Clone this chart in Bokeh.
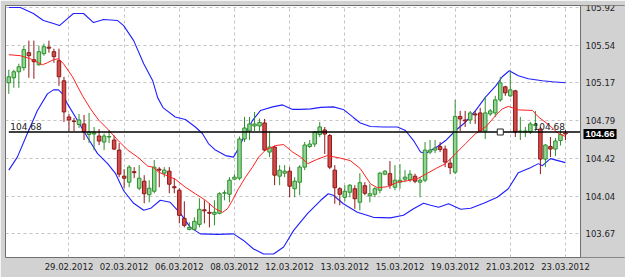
from bokeh.plotting import figure
from bokeh.models import ColumnDataSource, FixedTicker, Range1d, Label, BoxAnnotation, Span
from bokeh.embed import file_html
from bokeh.resources import INLINE

# ---------------- data ----------------
opens = [105.17, 105.22, 105.28, 105.32, 105.47, 105.40, 105.35, 105.46, 105.525, 105.48,
         105.39, 105.19, 104.83, 104.79, 104.755, 104.76, 104.655, 104.66, 104.64, 104.58,
         104.63, 104.60, 104.50, 104.24, 104.18, 104.285, 104.12, 104.19, 104.055, 104.09,
         104.31, 104.27, 104.29, 104.135, 104.10, 103.82, 103.71, 103.71, 103.76, 103.905,
         103.88, 103.86, 103.87, 104.07, 104.06, 104.21, 104.22, 104.61, 104.69, 104.74,
         104.74, 104.77, 104.48, 104.53, 104.24, 104.27, 104.29, 104.115, 104.18, 104.33,
         104.535, 104.56, 104.655, 104.70, 104.645, 104.30, 104.115, 104.03, 104.08, 104.115,
         103.98, 104.145, 104.045, 104.06, 104.10, 104.26, 104.265, 104.13, 104.18, 104.21,
         104.205, 104.24, 104.18, 104.20, 104.48, 104.50, 104.535, 104.51, 104.37, 104.28,
         104.835, 104.80, 104.80, 104.86, 104.87, 104.69, 104.86, 104.87, 105.00, 105.13,
         105.04, 105.09, 104.685, 104.68, 104.68, 104.745, 104.71, 104.41, 104.535, 104.51,
         104.595, 104.67]
highs = [105.30, 105.30, 105.36, 105.54, 105.59, 105.59, 105.54, 105.56, 105.59, 105.51,
         105.51, 105.23, 104.86, 104.82, 104.86, 104.85, 104.87, 104.73, 104.71, 104.665,
         104.70, 104.645, 104.57, 104.31, 104.35, 104.33, 104.35, 104.25, 104.20, 104.40,
         104.33, 104.33, 104.33, 104.22, 104.12, 103.99, 103.78, 103.83, 104.02, 104.00,
         103.97, 104.00, 104.08, 104.10, 104.23, 104.26, 104.635, 104.83, 104.83, 104.88,
         104.815, 104.81, 104.69, 104.545, 104.35, 104.35, 104.33, 104.23, 104.35, 104.58,
         104.60, 104.69, 104.78, 104.73, 104.66, 104.35, 104.13, 104.15, 104.16, 104.15,
         104.27, 104.18, 104.16, 104.13, 104.28, 104.30, 104.39, 104.35, 104.36, 104.30,
         104.30, 104.265, 104.23, 104.58, 104.60, 104.60, 104.58, 104.545, 104.41, 105.00,
         104.89, 104.89, 104.89, 104.89, 104.92, 105.03, 104.91, 105.04, 105.23, 105.14,
         105.28, 105.10, 104.83, 104.73, 104.78, 104.89, 104.73, 104.56, 104.63, 104.62,
         104.70, 104.70]
lows = [105.06, 105.12, 105.12, 105.29, 105.22, 105.21, 105.34, 105.44, 105.47, 105.37,
        105.14, 104.78, 104.69, 104.69, 104.72, 104.60, 104.57, 104.50, 104.55, 104.50,
        104.57, 104.50, 104.23, 104.12, 104.13, 104.22, 104.10, 103.97, 103.98, 104.07,
        104.13, 104.23, 104.07, 104.07, 103.77, 103.73, 103.70, 103.70, 103.73, 103.77,
        103.73, 103.75, 103.86, 104.00, 103.98, 104.20, 104.20, 104.58, 104.60, 104.69,
        104.69, 104.49, 104.43, 104.15, 104.15, 104.23, 104.03, 104.03, 104.05, 104.30,
        104.52, 104.53, 104.63, 104.46, 104.31, 103.965, 103.95, 103.99, 104.03, 103.915,
        103.90, 104.05, 103.98, 104.03, 104.07, 104.25, 104.115, 104.10, 104.115, 104.18,
        104.18, 104.17, 104.03, 104.18, 104.46, 104.47, 104.48, 104.33, 104.26, 104.26,
        104.69, 104.73, 104.76, 104.76, 104.68, 104.61, 104.84, 104.83, 104.98, 105.04,
        105.03, 104.63, 104.60, 104.63, 104.66, 104.69, 104.26, 104.33, 104.43, 104.44,
        104.545, 104.60]
closes = [105.23, 105.28, 105.33, 105.50, 105.44, 105.38, 105.48, 105.53, 105.515, 105.43,
          105.23, 104.88, 104.80, 104.785, 104.80, 104.68, 104.68, 104.67, 104.59, 104.64,
          104.635, 104.51, 104.26, 104.22, 104.33, 104.275, 104.22, 104.065, 104.12, 104.33,
          104.30, 104.30, 104.16, 104.125, 103.85, 103.75, 103.73, 103.79, 103.91, 103.895,
          103.87, 103.88, 104.065, 104.075, 104.20, 104.23, 104.61, 104.72, 104.76, 104.76,
          104.775, 104.50, 104.53, 104.25, 104.30, 104.29, 104.14, 104.19, 104.33, 104.55,
          104.56, 104.68, 104.73, 104.66, 104.33, 104.125, 104.06, 104.09, 104.15, 104.015,
          104.175, 104.07, 104.065, 104.115, 104.27, 104.29, 104.15, 104.20, 104.20, 104.23,
          104.26, 104.19, 104.20, 104.50, 104.50, 104.52, 104.505, 104.38, 104.325, 104.835,
          104.81, 104.79, 104.87, 104.85, 104.69, 104.87, 104.89, 105.00, 105.17, 105.07,
          105.10, 104.68, 104.69, 104.69, 104.76, 104.755, 104.41, 104.55, 104.51, 104.59,
          104.655, 104.66]

# moving average (red): bar position / price
ma_x = [0, 2.3, 4.3, 5.7, 6.7, 7.7, 8.9, 9.9, 10.9, 12.7, 14.7, 16.3, 17.9, 19.7, 21.7,
        23.7, 25.7, 27.7, 28.7, 29.9, 31.3, 33.2, 35.2, 37.2, 39.2, 41.2, 42.6, 43.6, 44.6,
        45.8, 47.2, 48.6, 49.8, 51.2, 53.2, 54.8, 56.6, 58.2, 59.6, 61.6, 63.5, 66.1, 68.1,
        70.1, 72.1, 73.5, 75.5, 77.5, 79.5, 81.5, 83.5, 85.3, 87.1, 89.1, 91.1, 93.1, 95.1,
        97.1, 98.4, 99.6, 101.6, 104.4, 105.6, 107.6, 109.6, 111]
ma_y = [105.45, 105.44, 105.41, 105.375, 105.35, 105.37, 105.40, 105.41, 105.36, 105.23,
        105.04, 104.91, 104.80, 104.71, 104.60, 104.50, 104.43, 104.34, 104.33, 104.28,
        104.25, 104.21, 104.13, 104.065, 104.00, 103.915, 103.88, 103.915, 104.00, 104.115,
        104.23, 104.33, 104.43, 104.50, 104.545, 104.555, 104.48, 104.43, 104.365, 104.41,
        104.445, 104.42, 104.395, 104.315, 104.165, 104.125, 104.135, 104.18, 104.195,
        104.215, 104.27, 104.32, 104.365, 104.465, 104.565, 104.665, 104.73, 104.845,
        104.91, 104.935, 104.90, 104.895, 104.83, 104.755, 104.665, 104.635]

# upper Bollinger band (blue)
up_x = [0, 2.3, 4.9, 6.9, 8.9, 10.1, 11.7, 12.9, 14.9, 16.9, 18.9, 21.7, 22.9, 24.9, 26.9,
        28.7, 29.7, 30.8, 33.2, 35.2, 37.2, 38.6, 39.8, 41.2, 43.2, 44.8, 45.8, 47.2, 48.6,
        50.2, 52.6, 54.6, 56.6, 58.2, 60.2, 62.2, 64.7, 66.7, 68.7, 70.1, 72.1, 74.7, 77.5,
        79.1, 80.7, 82.1, 83.1, 84.1, 85.5, 87.1, 89.1, 91.1, 93.1, 95.1, 97.1, 98.4, 99.8,
        101.6, 103.6, 106.4, 108.4, 111]
up_y = [105.92, 105.92, 105.86, 105.79, 105.76, 105.74, 105.81, 105.86, 105.86, 105.77,
        105.80, 105.79, 105.74, 105.59, 105.36, 105.19, 105.02, 104.92, 104.83, 104.805,
        104.73, 104.665, 104.565, 104.50, 104.445, 104.43, 104.515, 104.665, 104.795,
        104.895, 104.93, 104.95, 104.905, 104.905, 104.91, 104.925, 104.93, 104.905,
        104.825, 104.77, 104.735, 104.73, 104.73, 104.695, 104.595, 104.48, 104.465,
        104.495, 104.535, 104.595, 104.695, 104.78, 104.895, 105.03, 105.14, 105.23,
        105.29, 105.24, 105.21, 105.19, 105.18, 105.17]

# lower Bollinger band (blue)
lo_x = [0, 1.7, 3.7, 5.7, 7.7, 8.9, 9.9, 10.7, 11.7, 13.7, 15.7, 17.7, 19.7, 21.3, 22.9,
        24.9, 26.9, 28.3, 30.2, 32.2, 34.2, 36.2, 38.2, 41.6, 44.8, 46.8, 48.8, 50.8, 52.8,
        54.8, 56.8, 59.6, 62.2, 63.7, 64.7, 66.7, 69.5, 72.7, 76.1, 78.7, 80.7, 82.7, 84.1,
        85.7, 87.7, 90.1, 92.1, 94.7, 97.4, 99.6, 101.6, 104.0, 105.6, 106.4, 108.0, 111]
lo_y = [104.30, 104.43, 104.665, 104.895, 105.06, 105.10, 105.10, 105.06, 104.96, 104.795,
        104.625, 104.465, 104.365, 104.265, 104.095, 103.97, 103.90, 103.92, 104.00, 103.98,
        103.87, 103.73, 103.665, 103.66, 103.665, 103.60, 103.515, 103.465, 103.465, 103.535,
        103.70, 103.87, 104.00, 104.065, 104.05, 103.965, 103.88, 103.83, 103.825, 103.85,
        103.915, 103.97, 103.95, 103.93, 103.965, 103.91, 103.92, 103.97, 104.03, 104.115,
        104.275, 104.325, 104.365, 104.345, 104.415, 104.375]

tick_bars = [12, 23, 34, 45, 56, 67, 78, 89, 100, 111]
tick_labels = ["29.02.2012", "02.03.2012", "06.03.2012", "08.03.2012", "12.03.2012",
               "13.03.2012", "15.03.2012", "19.03.2012", "21.03.2012", "23.03.2012"]
price_ticks = [103.67, 104.04, 104.42, 104.79, 105.17, 105.54, 105.92]

level_price = 104.68
last_price = 104.66
marker_bar = [98]
marker_price = [104.68]

# chart-area extent in bar units (plot area ends where the price scale begins)
X_START = -0.66
X_EDGE = 114.0
X_END = 122.97

# ---------------- figure ----------------
FONT = "DejaVu Sans"
GRAY = "#d2d2d2"

p = figure(width=625, height=277, output_backend="svg", toolbar_location=None,
           x_range=Range1d(X_START, X_END), y_range=Range1d(103.43, 105.94),
           y_axis_location="right",
           min_border_left=5, min_border_right=0, min_border_top=5, min_border_bottom=20)

p.background_fill_color = "white"
p.border_fill_color = GRAY
p.outline_line_color = "#6e6e6e"
p.outline_line_width = 1

p.xaxis.ticker = FixedTicker(ticks=tick_bars, minor_ticks=[])
p.xaxis.major_label_overrides = {b: t for b, t in zip(tick_bars, tick_labels)}
p.yaxis.ticker = FixedTicker(ticks=price_ticks, minor_ticks=[])
p.yaxis.major_label_overrides = {v: f"{v:.2f}" for v in price_ticks}
p.yaxis.fixed_location = X_EDGE

for ax in (p.xaxis[0], p.yaxis[0]):
    ax.axis_line_color = None
    ax.major_tick_line_color = None
    ax.minor_tick_line_color = None
    ax.major_tick_out = 0
    ax.major_tick_in = 0
    ax.major_label_text_font = FONT
    ax.major_label_text_font_size = "8.5px"
    ax.major_label_text_color = "#222222"
p.xaxis.major_label_standoff = 5
p.yaxis.major_label_standoff = 5

p.xgrid.grid_line_color = "#c4c4c4"
p.xgrid.grid_line_dash = "3 3"
p.ygrid.grid_line_color = "#c4c4c4"
p.ygrid.grid_line_dash = "3 3"

# gray price-scale strip on the right (covers grid lines, below the axis labels)
p.add_layout(BoxAnnotation(left=X_EDGE, fill_color=GRAY, fill_alpha=1.0,
                           line_color=None, level="glyph"))
p.add_layout(Span(location=X_EDGE, dimension="height", line_color="#6e6e6e",
                  line_width=1, level="glyph"))

# overlays: bands
p.line(up_x, up_y, line_color="#1f1fff", line_width=1.1)
p.line(lo_x, lo_y, line_color="#1f1fff", line_width=1.1)

# candles
idx = list(range(len(opens)))
up_idx = [i for i in idx if closes[i] >= opens[i]]
dn_idx = [i for i in idx if closes[i] < opens[i]]

def src(ids):
    return ColumnDataSource(dict(
        x=ids,
        high=[highs[i] for i in ids],
        low=[lows[i] for i in ids],
        top=[max(opens[i], closes[i]) for i in ids],
        bottom=[min(opens[i], closes[i]) for i in ids],
    ))

s_up = src(up_idx)
s_dn = src(dn_idx)

p.segment(x0="x", y0="high", x1="x", y1="low", source=s_up, line_color="#2f8f2f", line_width=1)
p.segment(x0="x", y0="high", x1="x", y1="low", source=s_dn, line_color="#8e1818", line_width=1)
p.vbar(x="x", width=0.7, top="top", bottom="bottom", source=s_up,
       fill_color="#92d492", line_color="#2f8f2f", line_width=1)
p.vbar(x="x", width=0.7, top="top", bottom="bottom", source=s_dn,
       fill_color="#d24b4b", line_color="#8e1818", line_width=1)

# moving average
p.line(ma_x, ma_y, line_color="#ff2020", line_width=1)

# horizontal level line
p.line([0, X_EDGE], [level_price, level_price], line_color="black", line_width=1.4)

p.scatter(marker_bar, marker_price, marker="square", size=6,
          fill_color="white", line_color="#222222", line_width=1)

p.add_layout(Label(x=0.3, y=level_price, y_offset=2, text=f"{level_price:.2f}",
                   text_font=FONT, text_font_size="9px", text_color="#222222",
                   text_baseline="bottom"))
p.add_layout(Label(x=110.9, y=level_price, y_offset=2, text=f"{level_price:.2f}",
                   text_font=FONT, text_font_size="9px", text_color="#222222",
                   text_baseline="bottom", text_align="right"))
# last-price tag on the price scale
p.add_layout(Label(x=X_EDGE, x_offset=3, y=last_price, text=f"{last_price:.2f}",
                   text_font="Liberation Sans", text_font_size="9.5px", text_color="white",
                   text_font_style="bold", text_baseline="middle",
                   background_fill_color="black", padding=2))

open("out.html", "w").write(file_html(p, INLINE))
